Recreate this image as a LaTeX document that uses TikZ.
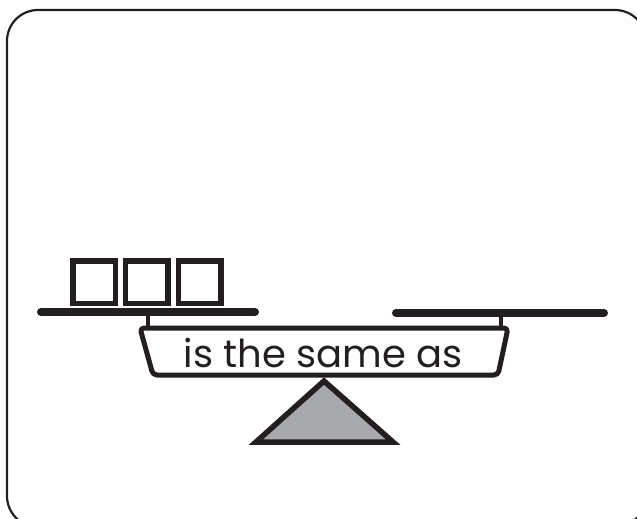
\documentclass[tikz,border=0pt]{standalone}
\usepackage{fontspec}
\setmainfont{Poppins}
\definecolor{ink}{HTML}{231F20}
\definecolor{fulcrum}{HTML}{A7A9AC}
\begin{document}
\begin{tikzpicture}[x=1pt,y=-1pt,
  bar/.style={draw=ink,line width=8pt,line cap=round},
  stem/.style={draw=ink,line width=4pt},
  box/.style={draw=ink,line width=5.5pt,minimum width=42.5pt,minimum height=42.5pt,inner sep=0pt,outer sep=0pt},
  label/.style={text=ink,font=\fontsize{38.5}{38.5}\selectfont,inner sep=0pt}]
\useasboundingbox (0,0) rectangle (637,519);
\fill[white] (0,0) rectangle (637,519);
% frame
\draw[ink,line width=2.2pt,rounded corners=31pt] (7,10) rectangle (646,527);
% bars
\draw[bar] (41,312) -- (255,312);
\draw[bar] (396,313) -- (604,313);
% stems
\draw[stem] (148,312) -- (148,328);
\draw[stem] (501,313) -- (501,329);
% squares
\node[box] (s1) at (94,282) {};
\node[box] (s2) at (146.5,282) {};
\node[box] (s3) at (199.5,282) {};
% beam
\draw[ink,line width=5pt,line join=round,rounded corners=4pt,fill=white] (140,328) -- (508,328) -- (498,375) -- (153,375) -- cycle;
\node[label,anchor=base] (t) at (323,367) {is the same as};
% fulcrum
\draw[ink,line width=5.5pt,fill=fulcrum,line join=miter] (324,381) -- (393,442) -- (256,442) -- cycle;
\end{tikzpicture}
\end{document}
